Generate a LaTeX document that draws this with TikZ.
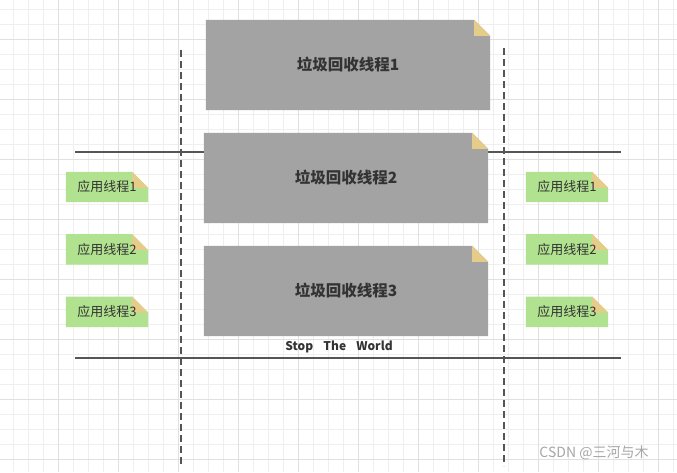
\documentclass[tikz,border=0pt]{standalone}
\usepackage{fontspec}
\setmainfont{Noto Sans CJK SC}
\usetikzlibrary{backgrounds,positioning}
\definecolor{gcgray}{HTML}{A3A3A3}
\definecolor{appgreen}{HTML}{B1E28F}
\definecolor{foldtan}{HTML}{E5CD89}
\definecolor{txtgray}{HTML}{333333}
\definecolor{linegray}{HTML}{555555}
\definecolor{gridminor}{HTML}{EFEFEF}
\definecolor{gridmajor}{HTML}{E0E0E0}

\begin{document}
\begin{tikzpicture}
		[x=1pt,y=-1pt,
		note/.style={rectangle,inner sep=0pt,text=txtgray},
		gcnote/.style={note,minimum width=284pt,minimum height=90pt,
			font=\fontsize{15.5}{18}\selectfont\bfseries},
		appnote/.style={note,minimum width=82pt,minimum height=30pt,
			font=\fontsize{13}{15}\selectfont},
		stwline/.style={linegray,line width=1.5pt},
		border/.style={linegray,line width=1.3pt,dash pattern=on 7pt off 4pt}]
		\useasboundingbox (0,0) rectangle (677,472);
		% gc threads
		\node[gcnote] (gc1) at (348,65) {垃圾回收线程1};
		\node[gcnote] (gc2) at (346,178) {垃圾回收线程2};
		\node[gcnote] (gc3) at (346,291) {垃圾回收线程3};
		\node[font=\fontsize{12}{14}\selectfont\bfseries,text=txtgray] (stw) at (339,347)
			{Stop\hspace{0.85em}The\hspace{0.85em}World};
		% app threads
		\node[appnote] (appL1) at (107,187) {应用线程1};
		\node[appnote,below=32pt of appL1] (appL2) {应用线程2};
		\node[appnote,below=32pt of appL2] (appL3) {应用线程3};
		\node[appnote] (appR1) at (567,187) {应用线程1};
		\node[appnote,below=32pt of appR1] (appR2) {应用线程2};
		\node[appnote,below=32pt of appR2] (appR3) {应用线程3};
		% watermark
		\node[font=\fontsize{14}{16}\selectfont,text=black!35] (mark) at (594,453) {CSDN @三河与木};
		\begin{scope}[on background layer]
			% grid
			\foreach \x in {13,28,...,673} \draw[gridminor,line width=0.6pt] (\x,0) -- (\x,472);
			\foreach \y in {9,24,...,469} \draw[gridminor,line width=0.6pt] (0,\y) -- (677,\y);
			\foreach \x in {58,118,...,658} \draw[gridmajor,line width=0.6pt] (\x,0) -- (\x,472);
			\foreach \y in {39,99,...,459} \draw[gridmajor,line width=0.6pt] (0,\y) -- (677,\y);
			% stop the world window
			\coordinate (top l) at (75,152);
			\coordinate (top r) at (621,152);
			\coordinate (bot l) at (75,358);
			\coordinate (bot r) at (621,358);
			\draw[stwline] (top l) -- (top r);
			\draw[stwline] (bot l) -- (bot r);
			\coordinate (dash l1) at (181,50);
			\coordinate (dash l2) at (181,466);
			\coordinate (dash r1) at (504,48);
			\coordinate (dash r2) at (504,466);
			\draw[border] (dash l1) -- (dash l2);
			\draw[border] (dash r1) -- (dash r2);
			% note bodies with folded corner
			\foreach \n/\c in {gc1/gcgray,gc2/gcgray,gc3/gcgray,
				appL1/appgreen,appL2/appgreen,appL3/appgreen,
				appR1/appgreen,appR2/appgreen,appR3/appgreen} {
				\fill[\c] (\n.south west) |- ([xshift=-16pt]\n.north east)
					-- ([yshift=-16pt]\n.north east) -- (\n.south east) -- cycle;
				\fill[foldtan] ([xshift=-16pt]\n.north east) |- ([yshift=-16pt]\n.north east) -- cycle;
			}
		\end{scope}
\end{tikzpicture}
\end{document}
